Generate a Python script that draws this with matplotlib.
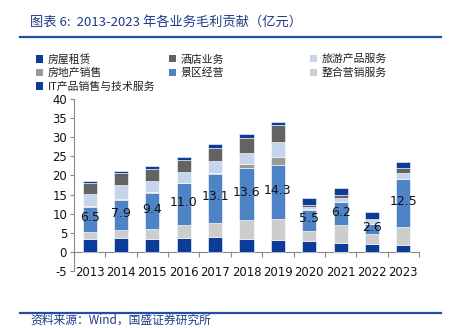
import matplotlib
matplotlib.use("Agg")
import matplotlib.pyplot as plt
import numpy as np
from matplotlib.patches import Patch
from matplotlib.lines import Line2D

plt.rcParams['font.family'] = ['DejaVu Sans', 'Noto Sans CJK SC']
plt.rcParams['axes.unicode_minus'] = False

years = ['2013', '2014', '2015', '2016', '2017', '2018', '2019', '2020', '2021', '2022', '2023']

# stacked series, bottom to top
rent = [3.2, 3.5, 3.4, 3.6, 3.9, 3.3, 3.1, 2.7, 2.2, 2.0, 1.8]          # 房屋租赁
marketing = [2.0, 2.2, 2.5, 3.3, 3.5, 5.0, 5.4, 2.8, 4.7, 2.6, 4.8]     # 整合营销服务
scenic = [6.5, 7.9, 9.4, 11.0, 13.1, 13.6, 14.3, 5.5, 6.2, 2.6, 12.5]   # 景区经营
realestate = [0.3, 0.3, 0.3, 0.2, 0.2, 1.2, 2.1, 0.2, -0.4, 0.1, 0.1]   # 房地产销售
travel = [3.1, 3.5, 3.0, 2.8, 3.1, 2.8, 3.9, 0.6, 1.0, 1.0, 1.5]        # 旅游产品服务
hotel = [3.0, 3.2, 3.2, 3.2, 3.3, 4.0, 4.4, 0.5, 0.9, 0.3, 1.2]         # 酒店业务
it = [0.5, 0.6, 0.7, 0.8, 1.2, 1.0, 0.8, 1.7, 1.7, 1.8, 1.7]            # IT产品销售与技术服务

names = {
    'rent': '房屋租赁', 'hotel': '酒店业务', 'travel': '旅游产品服务',
    'realestate': '房地产销售', 'scenic': '景区经营', 'marketing': '整合营销服务',
    'it': 'IT产品销售与技术服务',
}
colors = {
    'rent': '#0b3d98', 'hotel': '#636363', 'travel': '#c5d5ee',
    'realestate': '#9a9a9a', 'scenic': '#4e84c6', 'marketing': '#cdcdcd',
    'it': '#0b3d98',
}
stack = [('rent', rent), ('marketing', marketing), ('scenic', scenic),
         ('realestate', realestate), ('travel', travel), ('hotel', hotel), ('it', it)]

W, H = 452, 328
fig = plt.figure(figsize=(W / 100, H / 100), dpi=100)

def fx(px):
    return px / W

def fy(py):
    return 1 - py / H

ax_left, ax_right, ax_top, ax_bottom = 74, 419, 99.3, 270.7
ax = fig.add_axes([fx(ax_left), fy(ax_bottom), fx(ax_right - ax_left), (ax_bottom - ax_top) / H])

x = np.arange(len(years))
pos = np.zeros(len(years))
neg = np.zeros(len(years))
for key, vals in stack:
    v = np.array(vals, dtype=float)
    bottoms = np.where(v >= 0, pos, neg)
    ax.bar(x, v, 0.45, bottom=bottoms, color=colors[key],
           edgecolor='white', linewidth=0.4, zorder=3)
    if key == 'scenic':
        for xi, b, val in zip(x, bottoms, v):
            ax.text(xi, b + val / 2 + 0.4, f'{val:.1f}', ha='center', va='center',
                    fontsize=9, color='#111111', zorder=5)
    pos = np.where(v >= 0, pos + v, pos)
    neg = np.where(v < 0, neg + v, neg)

ax.set_xlim(-0.5, len(years) - 0.5)
ax.set_ylim(-5, 40)
ax.set_yticks(np.arange(-5, 41, 5))
ax.set_xticks(x)
ax.set_xticklabels(years)
ax.tick_params(axis='x', length=0, pad=-3.5, labelsize=8.4, colors='#111111')
ax.tick_params(axis='y', length=3, direction='out', color='#888888', labelsize=8.4,
               labelcolor='#111111', pad=2)
for s in ['top', 'right', 'bottom']:
    ax.spines[s].set_visible(False)
ax.spines['left'].set_color('#888888')
ax.spines['left'].set_linewidth(0.8)

# zero line with category boundary ticks
zero_loc = (0 - (-5)) / 45
sec = ax.secondary_xaxis(zero_loc)
sec.set_xticks([])
sec.set_xticks(np.arange(-0.5, len(years), 1.0), minor=True)
sec.tick_params(which='minor', length=3.5, direction='out', color='#888888', width=0.8)
sec.spines['bottom'].set_color('#888888')
sec.spines['bottom'].set_linewidth(0.8)
sec.tick_params(which='major', length=0, labelbottom=False)

# legends (3 columns)
cjk = ['Noto Sans CJK SC', 'DejaVu Sans']
cols = [(['rent', 'realestate', 'it'], 36), (['hotel', 'scenic'], 169), (['travel', 'marketing'], 310)]
for keys, px in cols:
    handles = [Patch(facecolor=colors[k], edgecolor='none') for k in keys]
    labels = [names[k] for k in keys]
    leg = fig.legend(handles, labels, loc='upper left', bbox_to_anchor=(fx(px), fy(54)),
                     frameon=False, handlelength=0.65, handleheight=0.65, handletextpad=0.45,
                     borderpad=0, borderaxespad=0, labelspacing=0.3,
                     prop={'family': cjk, 'size': 7.8})
    for t in leg.get_texts():
        t.set_color('#222222')

# title and rules
title_color = '#1f3a86'
fig.text(fx(30), fy(22), '图表 6:  2013-2023 年各业务毛利贡献（亿元）', ha='left', va='center',
         fontsize=9.5, color=title_color, family=cjk, style='italic')
fig.add_artist(Line2D([fx(20), fx(441)], [fy(36.5), fy(36.5)], color='#2050a5', lw=1.6))
fig.add_artist(Line2D([fx(20), fx(441)], [fy(312.5), fy(312.5)], color='#2050a5', lw=1.6))
fig.text(fx(30), fy(320.5), '资料来源：Wind，国盛证券研究所', ha='left', va='center',
         fontsize=8.5, color=title_color, family=cjk, style='italic')

fig.savefig('out.png', dpi=100)
